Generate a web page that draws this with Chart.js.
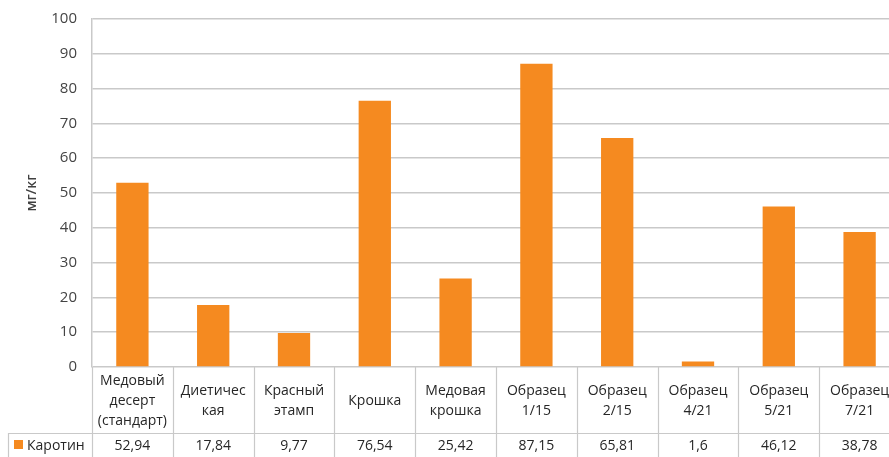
<!DOCTYPE html>
<html>
<head>
<meta charset="utf-8">
<script src="https://cdn.jsdelivr.net/npm/chart.js@4"></script>
<style>
    html, body { margin: 0; padding: 0; background: #fff; overflow: hidden; }
    #wrap { width: 905px; height: 457px; }
</style>
</head>
<body>
<div id="wrap"><canvas id="carotinChart" width="905" height="457"></canvas></div>
<script>
// categories (header lines of the table under the axis)
const categories = [
    ['Медовый', 'десерт', '(стандарт)'],
    ['Диетичес', 'кая'],
    ['Красный', 'этамп'],
    ['Крошка'],
    ['Медовая', 'крошка'],
    ['Образец', '1/15'],
    ['Образец', '2/15'],
    ['Образец', '4/21'],
    ['Образец', '5/21'],
    ['Образец', '7/21']
];
const seriesName = 'Каротин';
const carotin = [52.94, 17.84, 9.77, 76.54, 25.42, 87.15, 65.81, 1.6, 46.12, 38.78];
const yTicks = [0, 10, 20, 30, 40, 50, 60, 70, 80, 90, 100];
const yTitle = 'мг/кг';

const gridColor = '#c9c9c9';
const textColor = '#262626';
const barColor = '#f58a20';

function fmt(v) {
    return String(v).replace('.', ',');
}

// draws the data table below the x axis
const tablePlugin = {
    id: 'dataTable',
    afterDraw(chart) {
        const ctx = chart.ctx;
        const x = chart.scales.x;
        const area = chart.chartArea;
        const top = area.bottom;
        const rowLine = 433;
        const bottom = 457;
        const left = 8;
        const n = categories.length;
        const step = (area.right - area.left) / n;

        ctx.save();
        ctx.strokeStyle = gridColor;
        ctx.lineWidth = 1.2;

        // vertical lines between columns
        for (let i = 0; i <= n; i++) {
            const px = Math.round(area.left + i * step) + 0.5;
            ctx.beginPath();
            ctx.moveTo(px, top);
            ctx.lineTo(px, bottom);
            ctx.stroke();
        }
        // horizontal line above the value row
        ctx.beginPath();
        ctx.moveTo(left, rowLine + 0.5);
        ctx.lineTo(area.right, rowLine + 0.5);
        ctx.stroke();
        // left border of legend cell
        ctx.beginPath();
        ctx.moveTo(left + 0.5, rowLine);
        ctx.lineTo(left + 0.5, bottom);
        ctx.stroke();

        ctx.fillStyle = textColor;
        ctx.font = '14px "Open Sans", sans-serif';
        ctx.textAlign = 'center';
        ctx.textBaseline = 'middle';
        const lh = 20;
        const midHeader = (top + rowLine) / 2 + 1;
        for (let i = 0; i < n; i++) {
            const cx = x.getPixelForValue(i);
            const lines = categories[i];
            const start = midHeader - (lines.length - 1) * lh / 2;
            lines.forEach((t, k) => ctx.fillText(t, cx, start + k * lh));
            ctx.fillText(fmt(carotin[i]), cx, (rowLine + bottom) / 2 + 1);
        }

        // legend key
        ctx.fillStyle = barColor;
        ctx.fillRect(14, 440, 9, 9);
        ctx.fillStyle = textColor;
        ctx.textAlign = 'left';
        ctx.fillText(seriesName, 27, (rowLine + bottom) / 2 + 1);
        ctx.restore();
    }
};

const config = {
    type: 'bar',
    data: {
        labels: categories.map(c => c.join(' ')),
        datasets: [{
            label: seriesName,
            data: carotin,
            backgroundColor: barColor,
            borderWidth: 0,
            categoryPercentage: 1,
            barPercentage: 0.4
        }]
    },
    options: {
        responsive: false,
        animation: false,
        layout: {
            padding: { top: 19, right: 5, left: 0, bottom: 0 }
        },
        plugins: {
            legend: { display: false },
            tooltip: { enabled: false }
        },
        scales: {
            x: {
                grid: { display: false },
                border: { display: false },
                ticks: { display: false },
                afterFit(scale) { scale.height = 90; }
            },
            y: {
                min: 0,
                max: 100,
                afterBuildTicks(scale) {
                    scale.ticks = yTicks.map(v => ({ value: v }));
                },
                grid: { color: gridColor, lineWidth: 1.5, drawTicks: false },
                border: { color: gridColor, width: 1.5 },
                ticks: {
                    padding: 15,
                    color: '#444444',
                    font: { family: '"Open Sans", sans-serif', size: 15 }
                },
                title: {
                    display: true,
                    text: yTitle,
                    color: '#404040',
                    font: { family: '"Open Sans", sans-serif', size: 14, weight: '600' },
                    padding: { top: 24, bottom: 0 }
                },
                afterFit(scale) {
                    scale.width = 92;
                    scale.paddingTop = 0;
                    scale.paddingBottom = 0;
                }
            }
        }
    },
    plugins: [tablePlugin]
};

const ctx = document.getElementById('carotinChart');
const carotinChart = new Chart(ctx, config);
</script>
</body>
</html>
